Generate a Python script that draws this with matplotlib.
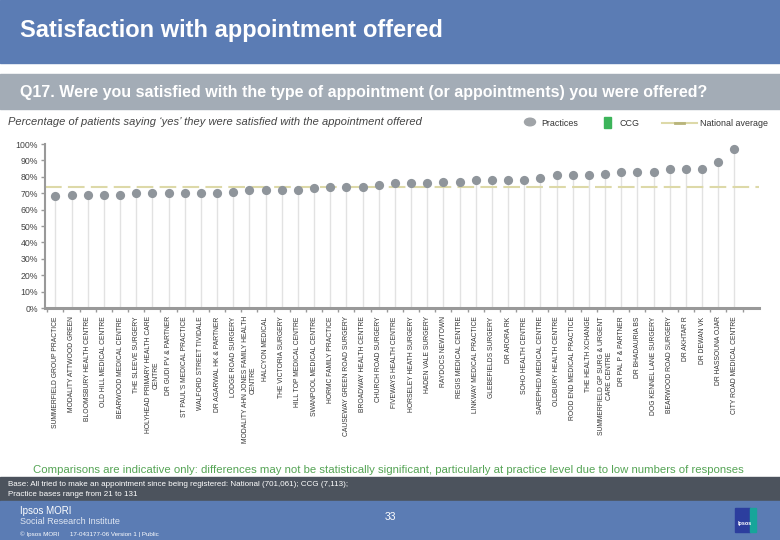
import matplotlib
matplotlib.use("Agg")
import matplotlib.pyplot as plt
from matplotlib.patches import Rectangle, Circle
from matplotlib.lines import Line2D

plt.rcParams['font.family'] = ['Liberation Sans', 'DejaVu Sans']

practices = [
    "SUMMERFIELD GROUP PRACTICE", "MODALITY ATTWOOD GREEN", "BLOOMSBURY HEALTH CENTRE",
    "OLD HILL MEDICAL CENTRE", "BEARWOOD MEDICAL CENTRE", "THE SLEEVE SURGERY",
    "HOLYHEAD PRIMARY HEALTH CARE\nCENTRE", "DR GUDI PV & PARTNER", "ST PAUL'S MEDICAL PRACTICE",
    "WALFORD STREET TIVIDALE", "DR AGARWAL HK & PARTNER", "LODGE ROAD SURGERY",
    "MODALITY AHN JONES FAMILY HEALTH\nCENTRE", "HALCYON MEDICAL", "THE VICTORIA SURGERY",
    "HILL TOP MEDICAL CENTRE", "SWANPOOL MEDICAL CENTRE", "HORMC FAMILY PRACTICE",
    "CAUSEWAY GREEN ROAD SURGERY", "BROADWAY HEALTH CENTRE", "CHURCH ROAD SURGERY",
    "FIVEWAYS HEALTH CENTRE", "HORSELEY HEATH SURGERY", "HADEN VALE SURGERY",
    "RAYDOCS NEWTOWN", "REGIS MEDICAL CENTRE", "LINKWAY MEDICAL PRACTICE",
    "GLEBEFIELDS SURGERY", "DR ARORA RK", "SOHO HEALTH CENTRE",
    "SAREPHED MEDICAL CENTRE", "OLDBURY HEALTH CENTRE", "ROOD END MEDICAL PRACTICE",
    "THE HEALTH XCHANGE", "SUMMERFIELD GP SURG & URGENT\nCARE CENTRE", "DR PAL P & PARTNER",
    "DR BHADAURIA BS", "DOG KENNEL LANE SURGERY", "BEARWOOD ROAD SURGERY",
    "DR AKHTAR R", "DR DEWAN VK", "DR HASSOUNA OJAR", "CITY ROAD MEDICAL CENTRE",
]
practice_values = [68, 69, 69, 69, 69, 70, 70, 70, 70, 70, 70, 71, 72, 72, 72, 72, 73, 74, 74, 74,
                   75, 76, 76, 76, 77, 77, 78, 78, 78, 78, 79, 81, 81, 81, 82, 83, 83, 83, 85, 85,
                   85, 89, 97]
national_average = 74
y_ticks = [0, 10, 20, 30, 40, 50, 60, 70, 80, 90, 100]
y_tick_labels = [f"{v}%" for v in y_ticks]

W, H = 780, 540
fig = plt.figure(figsize=(W / 100, H / 100), dpi=100)
fig.patch.set_facecolor("white")

def fx(px):
    return px / W

def fy(py):
    return 1 - py / H

# header bands
fig.add_artist(Rectangle((0, fy(63)), 1, 63 / H, transform=fig.transFigure, color="#5b7cb4", zorder=0))
fig.text(fx(20), fy(31), "Satisfaction with appointment offered", color="white", fontsize=17,
         fontweight="bold", va="center", ha="left")
fig.add_artist(Rectangle((0, fy(109)), 1, 35 / H, transform=fig.transFigure, color="#a3acb6", zorder=0))
fig.text(fx(20), fy(92), "Q17. Were you satisfied with the type of appointment (or appointments) you were offered?",
         color="white", fontsize=11.5, fontweight="bold", va="center", ha="left")
fig.text(fx(8), fy(122), "Percentage of patients saying \u2018yes\u2019 they were satisfied with the appointment offered",
         color="#444444", fontsize=8.0, style="italic", va="center", ha="left")

# legend
fig.add_artist(Circle((fx(530), fy(122)), 5.5 / W, transform=fig.transFigure, color="#a0a4a8"))
fig.text(fx(541), fy(123), "Practices", fontsize=6.4, color="#333333", va="center")
fig.add_artist(Rectangle((fx(604), fy(128)), 7 / W, 11 / H, transform=fig.transFigure, color="#3cb45a"))
fig.text(fx(620), fy(123), "CCG", fontsize=6.4, color="#333333", va="center")
fig.add_artist(Line2D([fx(662), fx(697)], [fy(123), fy(123)], transform=fig.transFigure,
                      color="#ddd9a8", lw=1.5))
fig.add_artist(Line2D([fx(675), fx(684)], [fy(123), fy(123)], transform=fig.transFigure,
                      color="#b8b47a", lw=2))
fig.text(fx(700), fy(123), "National average", fontsize=6.4, color="#333333", va="center")

# chart
ax = fig.add_axes([fx(45), fy(308), fx(759) - fx(45), (308 - 144) / H])
x = list(range(len(practices)))
ax.vlines(x, 0, practice_values, color="#e2e2e2", lw=1, zorder=1)
ax.axhline(national_average, color="#ddd9a8", lw=1.5, dashes=(8, 3), zorder=2)
ax.scatter(x, practice_values, s=44, color="#8f959b", zorder=3, linewidths=0)
ax.set_xlim(-0.64, 43.52)
ax.set_ylim(0, 100)
ax.set_yticks(y_ticks)
ax.set_yticklabels(y_tick_labels, fontsize=6.3, color="#444444")
ax.set_xticks(x)
ax.set_xticklabels(practices, rotation=90, fontsize=4.9, color="#333333",
                   va="top", ha="center", multialignment="center")
ax.tick_params(axis="x", length=0, pad=6)
ax.set_xticks([i + 0.5 for i in range(-1, len(practices))], minor=True)
ax.tick_params(axis="x", which="minor", length=3, color="#999999", width=1)
ax.tick_params(axis="y", length=3, color="#999999", width=1, pad=2)
for s in ["top", "right"]:
    ax.spines[s].set_visible(False)
ax.spines["left"].set_color("#999999")
ax.spines["left"].set_linewidth(1.5)
ax.spines["bottom"].set_color("#999999")
ax.spines["bottom"].set_linewidth(2.2)
ax.patch.set_alpha(0)

# footer
fig.text(fx(388), fy(470), "Comparisons are indicative only: differences may not be statistically significant, particularly at practice level due to low numbers of responses",
         color="#55a455", fontsize=8.2, ha="center", va="center")
fig.add_artist(Rectangle((0, fy(501)), 1, 24 / H, transform=fig.transFigure, color="#4c535d", zorder=0))
fig.text(fx(8), fy(485), "Base: All tried to make an appointment since being registered: National (701,061); CCG (7,113);",
         color="white", fontsize=5.8, va="center")
fig.text(fx(8), fy(495), "Practice bases range from 21 to 131", color="white", fontsize=5.8, va="center")
fig.add_artist(Rectangle((0, 0), 1, 39 / H, transform=fig.transFigure, color="#5b7cb4", zorder=0))
fig.text(fx(20), fy(511), "Ipsos MORI", color="white", fontsize=7, va="center")
fig.text(fx(20), fy(522), "Social Research Institute", color="#dfe6f2", fontsize=6.5, va="center")
fig.text(fx(20), fy(534), "\u00a9 Ipsos MORI      17-043177-06 Version 1 | Public", color="white", fontsize=4.5, va="center")
fig.text(fx(390), fy(517), "33", color="white", fontsize=7.5, ha="center", va="center")
fig.add_artist(Rectangle((fx(735), fy(532)), 15 / W, 24 / H, transform=fig.transFigure, color="#2c3e9e"))
fig.add_artist(Rectangle((fx(750), fy(532)), 6 / W, 24 / H, transform=fig.transFigure, color="#17a59a"))
fig.text(fx(745), fy(524), "Ipsos", color="white", fontsize=4, ha="center", va="center", fontweight="bold")

fig.savefig("out.png", dpi=100)
